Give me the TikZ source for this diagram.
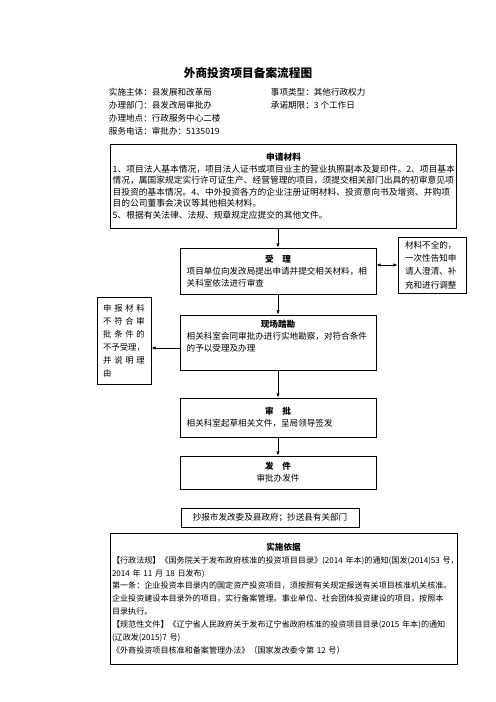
\documentclass[tikz,border=0pt]{standalone}
\usepackage{fontspec}
\setmainfont{Noto Sans CJK SC}
\usetikzlibrary{arrows.meta}

\tikzset{
  kuang/.style={draw, rectangle, line width=1.1pt, inner ysep=2pt, align=left},
  zhengwen/.style={font=\fontsize{10.3}{14.4}\selectfont},
  xinxi/.style={anchor=west, font=\fontsize{10.3}{14}\selectfont},
  jiantou/.style={-{Latex[length=5pt,width=4pt]}, line width=0.9pt}
}
\newcommand{\kuangti}[1]{\makebox[\linewidth]{\bfseries #1}}

\begin{document}
\begin{tikzpicture}[x=1.2pt, y=-1.2pt]
			%%%%% START %%%%%
			\useasboundingbox (0, 0) rectangle (496, 702);
			
			\node[font=\bfseries\fontsize{14}{16}\selectfont] (biaoti) at (248, 73) {外商投资项目备案流程图};
			
			\node[xinxi] (zhuti) at (106, 92) {实施主体：县发展和改革局};
			\node[xinxi] (leixing) at (268, 92) {事项类型：其他行政权力};
			\node[xinxi] (bumen) at (106, 105) {办理部门：县发改局审批办};
			\node[xinxi] (qixian) at (268, 105) {承诺期限：3 个工作日};
			\node[xinxi] (didian) at (106, 118) {办理地点：行政服务中心二楼};
			\node[xinxi] (dianhua) at (106, 131) {服务电话：审批办：5135019};
			
			% shenqing cailiao
			\node[kuang, inner xsep=3pt, text width=410pt, minimum height=100.8pt,
			      font=\fontsize{10.5}{13.8}\selectfont] (shenqing) at (283.5, 186) {%
				\kuangti{申请材料}\\
				1、项目法人基本情况，项目法人证书或项目业主的营业执照副本及复印件。2、项目基本\\
				情况，属国家规定实行许可证生产、经营管理的项目，须提交相关部门出具的初审意见项\\
				目投资的基本情况。4、中外投资各方的企业注册证明材料、投资意向书及增资、并购项\\
				目的公司董事会决议等其他相关材料。\\
				5、根据有关法律、法规、规章规定应提交的其他文件。};
			
			\node[kuang, zhengwen, inner xsep=8pt, text width=219.2pt, minimum height=55.2pt] (shouli) at (278, 271) {%
				\kuangti{受\quad 理}\\
				项目单位向发改局提出申请并提交相关材料，相\\
				关科室依法进行审查};
			
			\node[kuang, inner xsep=8.4pt, text width=64.8pt, minimum height=67.2pt,
			      font=\fontsize{10.3}{16}\selectfont] (buqi) at (432, 265) {%
				材料不全的，\\一次性告知申\\请人澄清、补\\充和进行调整};
			
			\node[kuang, zhengwen, inner xsep=8pt, text width=219.2pt, minimum height=66pt] (kancha) at (278, 342.5) {%
				\kuangti{现场踏勘}\\
				相关科室会同审批办进行实地勘察，对符合条件\\
				的予以受理及办理\\[2pt]\mbox{}};
			
			\node[kuang, inner xsep=7.4pt, text width=50pt, minimum height=104.4pt,
			      font=\fontsize{10}{15.6}\selectfont] (bushou) at (124, 340.5) {%
				\makebox[50pt][s]{申 报 材 料}\\
				\makebox[50pt][s]{不 符 合 审}\\
				\makebox[50pt][s]{批 条 件 的}\\
				不予受理，\\
				\makebox[50pt][s]{并 说 明 理}\\
				由};
			
			\node[kuang, zhengwen, inner xsep=8pt, text width=219.2pt, minimum height=46.8pt] (shenpi) at (278, 417.5) {%
				\kuangti{审\quad 批}\\
				相关科室起草相关文件，呈局领导签发};
			
			\node[kuang, zhengwen, inner xsep=8pt, text width=219.2pt, minimum height=39.6pt, align=center] (fajian) at (278, 472.5) {%
				{\bfseries 发\quad 件}\\
				审批办发件};
			
			\node[kuang, zhengwen, inner xsep=4pt, text width=205.6pt, minimum height=22.8pt, align=center] (chaobao) at (270, 517.5) {%
				抄报市发改委及县政府；抄送县有关部门};
			
			% shishi yiju
			\node[kuang, inner xsep=2.4pt, text width=411.6pt, minimum height=157.2pt,
			      font=\fontsize{9.7}{15.5}\selectfont] (yiju) at (283.5, 598.5) {%
				\kuangti{\fontsize{10.3}{14}\selectfont 实施依据}\\
				【行政法规】《国务院关于发布政府核准的投资项目目录》(2014~年本)的通知(国发(2014)53~号，\\
				2014~年~11~月~18~日发布)\\
				第一条：企业投资本目录内的国定资产投资项目，须按照有关规定报送有关项目核准机关核准。\\
				企业投资建设本目录外的项目，实行备案管理。事业单位、社会团体投资建设的项目，按照本\\
				目录执行。\\
				【规范性文件】《辽宁省人民政府关于发布辽宁省政府核准的投资项目目录(2015~年本)的通知\\
				(辽政发(2015)7~号)\\
				《外商投资项目核准和备案管理办法》（国家发改委令第~12~号）};
			
			% jiantou
			\draw[jiantou] (shouli.north |- shenqing.south) -- (shouli.north);
			\draw[jiantou, {Latex[length=5pt,width=4pt]}-{Latex[length=5pt,width=4pt]}] (shouli.east |- buqi.west) -- (buqi.west);
			\draw[jiantou] (shouli) -- (kancha);
			\draw[jiantou] ([yshift=-6.6pt]kancha.west) -- ([yshift=-6.6pt]kancha.west -| bushou.east);
			\draw[jiantou] (kancha) -- (shenpi);
			\draw[jiantou] (shenpi) -- (fajian);
			
			%%%%% END %%%%%
\end{tikzpicture}
\end{document}
